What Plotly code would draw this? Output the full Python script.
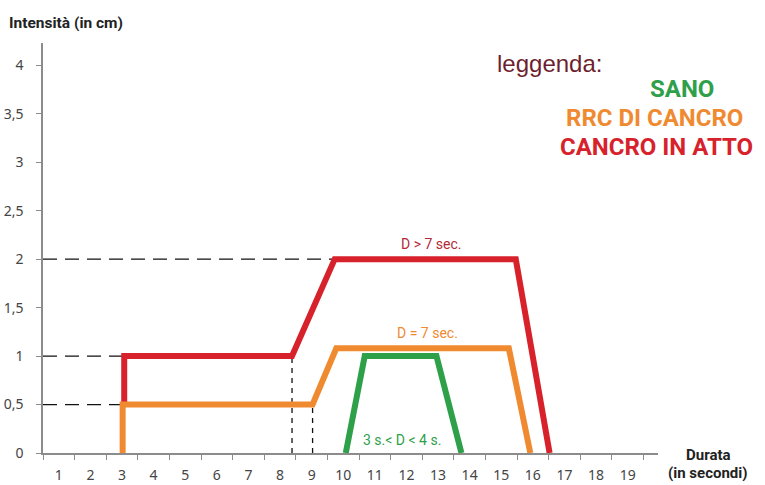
import plotly.graph_objects as go

# ---- data ----
x_labels = [str(i) for i in range(1, 20)]
x_label_pos = list(range(1, 20))
x_tick_marks = [i + 0.5 for i in range(0, 20)]
y_tick_vals = [0, 0.5, 1, 1.5, 2, 2.5, 3, 3.5, 4]
y_tick_text = ["0", "0,5", "1", "1,5", "2", "2,5", "3", "3,5", "4"]

red_x = [3.07, 3.07, 8.38, 9.73, 15.46, 16.53]
red_y = [0.5, 1.0, 1.0, 2.0, 2.0, 0.0]
orange_x = [3.02, 3.02, 9.03, 9.78, 15.24, 15.92]
orange_y = [0.0, 0.5, 0.5, 1.08, 1.08, 0.0]
green_x = [10.08, 10.68, 12.95, 13.74]
green_y = [0.0, 1.0, 1.0, 0.0]

guide_h_y = [2.0, 1.0, 0.5]
guide_h_x_end = [9.73, 3.07, 3.02]
guide_v_x = [8.38, 9.03]
guide_v_y_end = [1.0, 0.5]

RED = "#d7222c"
ORANGE = "#f08a30"
GREEN = "#2fa04a"
NARROW = "Liberation Sans Narrow, Arial Narrow, Roboto, sans-serif"
TICKFONT = dict(family="Noto Sans, Open Sans, sans-serif", size=14, color="#444")

W, H = 765, 485
ML, MR, MT, MB = 43, 107, 43, 32
PW, PH = W - ML - MR, H - MT - MB

fig = go.Figure()

for yv, xe in zip(guide_h_y, guide_h_x_end):
    fig.add_trace(go.Scatter(x=[0.5, xe], y=[yv, yv], mode="lines",
                             line=dict(color="#111", width=1.3, dash="14px,8px"),
                             hoverinfo="skip", showlegend=False))
for xv, ye in zip(guide_v_x, guide_v_y_end):
    fig.add_trace(go.Scatter(x=[xv, xv], y=[0, ye], mode="lines",
                             line=dict(color="#111", width=1.3, dash="5px,5px"),
                             hoverinfo="skip", showlegend=False))

fig.add_trace(go.Scatter(x=red_x, y=red_y, mode="lines",
                         line=dict(color=RED, width=6), showlegend=False))
fig.add_trace(go.Scatter(x=orange_x, y=orange_y, mode="lines",
                         line=dict(color=ORANGE, width=6), showlegend=False))
fig.add_trace(go.Scatter(x=green_x, y=green_y, mode="lines",
                         line=dict(color=GREEN, width=6), showlegend=False))

annos = [
    dict(x=12.79, y=2.16, text="D > 7 sec.", color="#b12a36", size=14),
    dict(x=12.67, y=1.24, text="D = 7 sec.", color=ORANGE, size=14),
    dict(x=11.87, y=0.138, text="3 s.< D < 4 s.", color=GREEN, size=14),
]
for a in annos:
    fig.add_annotation(x=a["x"], y=a["y"], xref="x", yref="y", text=a["text"],
                       showarrow=False, font=dict(family=NARROW, size=a["size"], color=a["color"]))


def px(xp, yp):
    return (xp - ML) / PW, 1 - (yp - MT) / PH


legend_items = [
    ("leggenda:", 549, 63, "#6e1f2f", 24, "Liberation Sans, Arial, sans-serif", False),
    ("SANO", 682, 89, GREEN, 24, NARROW, True),
    ("RRC DI CANCRO", 654, 118, ORANGE, 24, NARROW, True),
    ("CANCRO IN ATTO", 656, 147, RED, 24, NARROW, True),
    ("Intensità (in cm)", 66, 23, "#222", 15.5, NARROW, True),
    ("Durata", 708, 455, "#222", 15, NARROW, True),
    ("(in secondi)", 708, 473, "#222", 15, NARROW, True),
]
for txt, xp, yp, col, sz, fam, bold in legend_items:
    xx, yy = px(xp, yp)
    fig.add_annotation(x=xx, y=yy, xref="paper", yref="paper",
                       text=f"<b>{txt}</b>" if bold else txt, showarrow=False,
                       xanchor="center", yanchor="middle",
                       font=dict(family=fam, size=sz, color=col))

fig.update_layout(
    width=W, height=H,
    margin=dict(l=ML, r=MR, t=MT, b=MB, autoexpand=False),
    paper_bgcolor="white", plot_bgcolor="white",
    xaxis=dict(range=[0.5, 19.96], showgrid=False, zeroline=False, automargin=False,
               showline=True, linecolor="#8c8c8c", linewidth=1.5,
               tickmode="array", tickvals=x_label_pos, ticktext=x_labels,
               ticks="", ticklabelstandoff=8, tickfont=TICKFONT,
               minor=dict(tickmode="array", tickvals=x_tick_marks, ticks="outside",
                          ticklen=5, tickcolor="#8c8c8c", tickwidth=1, showgrid=False)),
    yaxis=dict(range=[0, 4.23], showgrid=False, zeroline=False, automargin=False,
               showline=True, linecolor="#8c8c8c", linewidth=1.5,
               tickmode="array", tickvals=y_tick_vals, ticktext=y_tick_text,
               ticks="outside", ticklen=5, tickcolor="#8c8c8c", ticklabelstandoff=10,
               tickfont=TICKFONT),
)

fig.write_html("out.html", config={"displayModeBar": False},
               post_script="document.body.style.margin='0';document.body.style.overflow='hidden';")
